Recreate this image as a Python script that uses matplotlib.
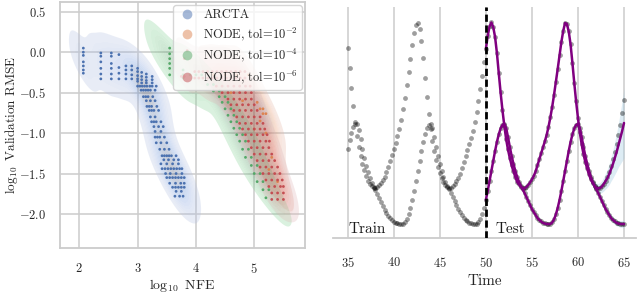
import numpy as np
import matplotlib
matplotlib.use("Agg")
import matplotlib.pyplot as plt
from matplotlib.lines import Line2D
import seaborn as sns

# ---------------- data: left panel ----------------
arcta_x = [2.07, 2.07, 2.07, 2.07, 2.07, 2.07, 2.07,
           2.37, 2.37, 2.37, 2.37, 2.37, 2.37,
           2.55, 2.55, 2.55, 2.55, 2.55, 2.55,
           2.68, 2.68, 2.68, 2.68,
           2.80, 2.80, 2.80, 2.80,
           2.90, 2.90, 2.90, 2.90,
           3.00, 3.00, 3.00, 3.00, 3.00,
           3.07, 3.07, 3.07, 3.07,
           3.15, 3.15, 3.15, 3.15,
           3.25, 3.25, 3.25,
           3.00, 3.04, 3.08, 3.12, 3.16, 3.21, 3.25, 3.32,
           3.06, 3.10, 3.14, 3.18, 3.22, 3.30,
           3.10, 3.14, 3.18, 3.26,
           3.15, 3.22, 3.30,
           3.16, 3.20, 3.24, 3.33,
           3.20, 3.24, 3.28, 3.36,
           3.22, 3.30,
           3.24, 3.28, 3.32, 3.40,
           3.28, 3.36, 3.44,
           3.30, 3.40,
           3.30, 3.34, 3.38, 3.46,
           3.32, 3.40, 3.50,
           3.38, 3.46, 3.54,
           3.42, 3.46, 3.50, 3.54, 3.58, 3.66,
           3.45, 3.53, 3.62, 3.70,
           3.40, 3.50, 3.60, 3.70,
           3.42, 3.47, 3.52, 3.57, 3.62, 3.67, 3.72, 3.76,
           3.48, 3.56, 3.66, 3.76,
           3.50, 3.55, 3.60, 3.65, 3.70, 3.75, 3.80,
           3.55, 3.65, 3.74, 3.80,
           3.60, 3.65, 3.70, 3.75, 3.80,
           3.66, 3.75,
           3.64, 3.72, 3.78]
arcta_y = [0.05, 0.00, -0.04, -0.12, -0.17, -0.22, -0.26,
           -0.01, -0.05, -0.12, -0.20, -0.27, -0.33,
           -0.01, -0.05, -0.14, -0.20, -0.27, -0.33,
           -0.03, -0.19, -0.26, -0.33,
           -0.17, -0.22, -0.27, -0.33,
           -0.17, -0.22, -0.28, -0.33,
           -0.20, -0.24, -0.29, -0.33, -0.36,
           -0.25, -0.30, -0.34, -0.38,
           -0.27, -0.31, -0.35, -0.38,
           -0.30, -0.34, -0.38,
           -0.42, -0.42, -0.42, -0.42, -0.42, -0.42, -0.42, -0.42,
           -0.47, -0.47, -0.47, -0.47, -0.47, -0.47,
           -0.55, -0.55, -0.55, -0.55,
           -0.60, -0.60, -0.60,
           -0.67, -0.67, -0.67, -0.67,
           -0.72, -0.72, -0.72, -0.72,
           -0.80, -0.80,
           -0.86, -0.86, -0.86, -0.86,
           -0.92, -0.92, -0.92,
           -0.98, -0.98,
           -1.05, -1.05, -1.05, -1.05,
           -1.12, -1.12, -1.12,
           -1.20, -1.20, -1.20,
           -1.28, -1.28, -1.28, -1.28, -1.28, -1.28,
           -1.33, -1.33, -1.33, -1.33,
           -1.38, -1.38, -1.38, -1.38,
           -1.44, -1.44, -1.44, -1.44, -1.44, -1.44, -1.44, -1.44,
           -1.50, -1.50, -1.50, -1.50,
           -1.55, -1.55, -1.55, -1.55, -1.55, -1.55, -1.55,
           -1.62, -1.62, -1.62, -1.62,
           -1.67, -1.67, -1.67, -1.67, -1.67,
           -1.72, -1.72,
           -1.78, -1.78, -1.78]

tol2_x = [4.30, 4.50, 4.70, 4.90, 5.05, 5.10, 5.15, 5.15, 5.20, 5.10, 5.20, 5.30, 5.40,
          4.60, 4.80, 5.00, 5.25]
tol2_y = [-0.28, -0.28, -0.28, -0.28, -0.62, -0.70, -0.70, -0.76, -0.76, -0.85, -1.00, -1.30, -1.60,
          -0.50, -0.60, -0.95, -1.45]

tol4_x = [3.55, 3.55, 3.55, 3.55, 3.55, 3.55,
          3.78, 3.78, 3.78, 3.90, 4.00, 4.10,
          4.20, 4.30, 4.30, 4.40, 4.40, 4.50, 4.45, 4.55, 4.50, 4.60,
          4.55, 4.65, 4.60, 4.70, 4.65, 4.75, 4.70, 4.80, 4.75, 4.85,
          4.80, 4.90, 4.85, 4.95, 4.95, 5.05, 5.00, 5.10, 5.05, 5.15,
          5.15, 5.25, 5.20]
tol4_y = [0.05, -0.02, -0.08, -0.14, -0.20, -0.28,
          -0.22, -0.28, -0.32, -0.28, -0.28, -0.28,
          -0.40, -0.40, -0.48, -0.48, -0.55, -0.55, -0.62, -0.62, -0.70, -0.70,
          -0.78, -0.78, -0.86, -0.86, -0.94, -0.94, -1.02, -1.02, -1.10, -1.10,
          -1.20, -1.20, -1.30, -1.30, -1.40, -1.40, -1.50, -1.50, -1.60, -1.60,
          -1.70, -1.70, -1.80]

tol6_x = [3.75, 3.80, 3.85, 3.80,
          3.98, 4.05, 4.12, 4.20, 4.28, 4.36, 4.44, 4.52, 4.60, 4.68, 4.76, 4.84,
          3.98, 4.05, 4.12, 4.20, 4.28, 4.36, 4.44, 4.52, 4.60, 4.68, 4.76, 4.84,
          4.35, 4.45, 4.55, 4.65, 4.75, 4.85, 4.93,
          4.45, 4.55, 4.65, 4.75, 4.85, 4.95,
          4.55, 4.65, 4.75, 4.85, 4.95,
          4.60, 4.70, 4.80, 4.90, 5.00,
          4.65, 4.75, 4.85, 4.95, 5.05,
          4.70, 4.80, 4.90, 5.00, 5.10,
          4.75, 4.85, 4.95, 5.05, 5.15,
          4.80, 4.90, 5.00, 5.10, 5.18,
          4.85, 4.95, 5.05, 5.15, 5.22,
          4.90, 5.00, 5.10, 5.20, 5.26,
          4.95, 5.05, 5.15, 5.25,
          5.00, 5.10, 5.20, 5.30,
          5.05, 5.15, 5.25, 5.35,
          5.10, 5.20, 5.30, 5.40,
          5.15, 5.25, 5.35, 5.44,
          5.20, 5.30, 5.40, 5.48,
          5.25, 5.35, 5.45, 5.50,
          5.30, 5.40, 5.50,
          5.30, 5.40, 5.50]
tol6_y = [-0.30, -0.30, 0.02, -0.08,
          -0.24, -0.24, -0.24, -0.24, -0.24, -0.24, -0.24, -0.24, -0.24, -0.24, -0.24, -0.24,
          -0.32, -0.32, -0.32, -0.32, -0.32, -0.32, -0.32, -0.32, -0.32, -0.32, -0.32, -0.32,
          -0.42, -0.42, -0.42, -0.42, -0.42, -0.42, -0.42,
          -0.50, -0.50, -0.50, -0.50, -0.50, -0.50,
          -0.58, -0.58, -0.58, -0.58, -0.58,
          -0.65, -0.65, -0.65, -0.65, -0.65,
          -0.72, -0.72, -0.72, -0.72, -0.72,
          -0.80, -0.80, -0.80, -0.80, -0.80,
          -0.88, -0.88, -0.88, -0.88, -0.88,
          -0.95, -0.95, -0.95, -0.95, -0.95,
          -1.02, -1.02, -1.02, -1.02, -1.02,
          -1.10, -1.10, -1.10, -1.10, -1.10,
          -1.18, -1.18, -1.18, -1.18,
          -1.26, -1.26, -1.26, -1.26,
          -1.34, -1.34, -1.34, -1.34,
          -1.42, -1.42, -1.42, -1.42,
          -1.50, -1.50, -1.50, -1.50,
          -1.58, -1.58, -1.58, -1.58,
          -1.66, -1.66, -1.66, -1.66,
          -1.74, -1.74, -1.74,
          -1.82, -1.82, -1.82]

series_labels = ["ARCTA", r"NODE, tol=$10^{-2}$", r"NODE, tol=$10^{-4}$", r"NODE, tol=$10^{-6}$"]
series_colors = ["#4C72B0", "#DD8452", "#55A868", "#C44E52"]
left_xticks = [2, 3, 4, 5]
left_yticks = [0.5, 0.0, -0.5, -1.0, -1.5, -2.0]

# ---------------- data: right panel ----------------
time = np.round(np.arange(35.0, 65.001, 0.2), 1)
obs_a = [19.0, 17.0, 15.0, 13.2, 11.6, 10.2, 9.1, 8.2, 7.4, 6.8, 6.2, 5.7, 5.4, 5.15, 5.0, 4.95,
         5.05, 5.25, 5.5, 5.75, 6.1, 6.55, 7.1, 7.7, 8.3, 8.9, 9.5, 10.15, 10.9, 11.8, 12.85, 14.0,
         15.25, 16.55, 17.9, 19.25, 20.45, 21.3,
         21.5, 20.9, 19.7, 18.0, 16.0, 14.1, 12.4, 10.9, 9.65, 8.65, 7.8, 7.1, 6.5, 5.95, 5.55, 5.25,
         5.07, 4.97,
         5.02, 5.2, 5.4, 5.65, 6.0, 6.4, 6.95, 7.55, 8.15, 8.75, 9.35, 9.95, 10.7, 11.55, 12.55, 13.7,
         14.9, 16.2, 17.55, 18.9, 20.2, 21.15,
         21.55, 21.1, 20.1, 18.5, 16.5, 14.55, 12.8, 11.25, 9.9, 8.85, 8.0, 7.25, 6.65, 6.1, 5.6, 5.35,
         5.1, 5.0, 4.95,
         5.1, 5.3, 5.55, 5.85, 6.2, 6.65, 7.25, 7.85, 8.45, 9.05, 9.65, 10.3, 11.1, 12.05, 13.1, 14.3,
         15.6, 16.9, 18.25, 19.6, 20.7, 21.5,
         21.4, 20.65, 19.35, 17.5, 15.5, 13.65, 12.0, 10.55, 9.4, 8.4, 7.6, 6.95, 6.35, 5.85, 5.5, 5.2,
         5.03, 4.96,
         5.0, 5.15, 5.4, 5.7, 6.1, 6.6, 7.2, 7.85, 8.6, 9.4, 10.3, 11.3, 12.5, 13.8]
obs_b = [8.9, 9.8, 10.5, 11.05, 11.35,
         11.35, 10.8, 9.85, 8.9, 8.0, 7.2, 6.55, 5.95, 5.5, 5.1, 4.75, 4.4, 4.0, 3.6, 3.2, 2.8, 2.5,
         2.2, 1.95, 1.75, 1.6, 1.5, 1.45, 1.4, 1.4,
         1.4, 1.55, 1.85, 2.35, 3.0, 3.8, 4.7, 5.7, 6.7, 7.7, 8.7, 9.6, 10.35, 10.95, 11.3, 11.4,
         11.0, 10.1, 9.1, 8.2, 7.4, 6.7, 6.1, 5.6, 5.2, 4.85, 4.5, 4.1, 3.7, 3.3, 2.9, 2.6, 2.3, 2.0,
         1.8, 1.65, 1.5, 1.45, 1.4, 1.4,
         1.4, 1.55, 1.85, 2.35, 3.0, 3.8, 4.7, 5.7, 6.7, 7.7, 8.7, 9.6, 10.35, 10.95, 11.3, 11.4,
         11.0, 10.1, 9.1, 8.2, 7.4, 6.7, 6.1, 5.6, 5.2, 4.85, 4.5, 4.1, 3.7, 3.3, 2.9, 2.6, 2.3, 2.0,
         1.8, 1.65, 1.5, 1.45, 1.4, 1.4,
         1.4, 1.55, 1.85, 2.35, 3.0, 3.8, 4.7, 5.7, 6.7, 7.7, 8.7, 9.6, 10.35, 10.95, 11.3, 11.4,
         11.0, 10.1, 9.1, 8.2, 7.4, 6.7, 6.1, 5.6, 5.2, 4.85, 4.5, 4.1, 3.7, 3.3, 2.9, 2.6, 2.3, 2.0,
         1.8, 1.65, 1.5, 1.45, 1.4, 1.4, 1.4]
pred_a_tail = [6.0, 6.4, 6.9, 7.4, 8.0, 8.6, 9.3, 10.0, 10.7, 11.5]   # t = 63.2 ... 65.0
band_a = [0.15, 0.15, 0.2, 0.2, 0.25, 0.25, 0.3, 0.3, 0.35, 0.4, 0.45, 0.5, 0.55, 0.6, 0.7, 0.8,
          0.9, 1.05, 1.2, 1.4, 1.65, 1.9, 2.2, 2.6, 3.0, 3.5]                 # t = 60.0 ... 65.0
band_b = [0.15, 0.2, 0.2, 0.25, 0.25, 0.3, 0.3, 0.3, 0.3, 0.3, 0.3, 0.3, 0.3, 0.3, 0.3, 0.3,
          0.3, 0.3, 0.3, 0.3, 0.3, 0.3, 0.3, 0.35, 0.35, 0.4]
split_time = 50
right_xticks = [35, 40, 45, 50, 55, 60, 65]

# ---------------- style ----------------
sns.set_theme(style="whitegrid")
plt.rcParams["font.family"] = ["cmr10", "DejaVu Serif"]
plt.rcParams["mathtext.fontset"] = "cm"
plt.rcParams["axes.formatter.use_mathtext"] = True
plt.rcParams["axes.unicode_minus"] = True

fig = plt.figure(figsize=(6.4, 2.94), dpi=100)

# ---------------- left panel ----------------
axL = fig.add_axes([0.09375, 0.1565, 0.3828, 0.8367])
groups = [(arcta_x, arcta_y), (tol2_x, tol2_y), (tol4_x, tol4_y), (tol6_x, tol6_y)]
for (gx, gy), c in zip(groups, series_colors):
    sns.kdeplot(x=gx, y=gy, ax=axL, fill=True, color=c, alpha=0.3, levels=16,
                thresh=0.04, bw_adjust=0.85, antialiased=True, linewidths=0)
for (gx, gy), c in zip(groups, series_colors):
    axL.scatter(gx, gy, s=4, color=c, edgecolor="none", linewidth=0, zorder=3)

axL.set_xlim(1.67, 5.87)
axL.set_ylim(-2.42, 0.62)
axL.set_xticks(left_xticks)
axL.set_xticklabels([f"${v}$" for v in left_xticks])
axL.set_yticks(left_yticks)
axL.set_yticklabels([f"${v:.1f}$" for v in left_yticks])
axL.tick_params(length=0, pad=10, labelsize=9, colors=".15")
axL.set_xlabel(r"$\log_{10}$ NFE", fontsize=10, color=".15", labelpad=1)
axL.set_ylabel(r"$\log_{10}$ Validation RMSE", fontsize=9.5, color=".15")
axL.yaxis.set_label_coords(-0.165, 0.5)
for sp in axL.spines.values():
    sp.set_color(".8")
    sp.set_linewidth(1.3)
axL.grid(True, color=".8", linewidth=1.1)

handles = [Line2D([], [], marker="o", ls="", markersize=7, color=c, alpha=0.5, markeredgewidth=0)
           for c in series_colors]
leg = axL.legend(handles, series_labels, loc="upper right", fontsize=9, frameon=True,
                 framealpha=0.8, borderaxespad=0.25, handletextpad=0.5, labelspacing=0.35,
                 borderpad=0.3, handlelength=1.6)
leg.get_frame().set_edgecolor(".8")

# ---------------- right panel ----------------
axR = fig.add_axes([0.5203, 0.1905, 0.4734, 0.7857])
t = np.asarray(time)
a = np.asarray(obs_a)
b = np.asarray(obs_b)
test = t >= split_time
pred_a = a[test].copy()
pred_a[-len(pred_a_tail):] = pred_a_tail
pred_b = b[test].copy()
tb = t[t >= 60]
pa_b = pred_a[-len(tb):]
pb_b = pred_b[-len(tb):]
axR.fill_between(tb, pa_b - np.asarray(band_a), pa_b + np.asarray(band_a),
                 color="#9ecae1", alpha=0.35, lw=0, zorder=1)
axR.fill_between(tb, pb_b - np.asarray(band_b), pb_b + np.asarray(band_b),
                 color="#9ecae1", alpha=0.35, lw=0, zorder=1)
axR.scatter(t, a, s=12, color="black", alpha=0.38, lw=0, zorder=2)
axR.scatter(t, b, s=12, color="black", alpha=0.38, lw=0, zorder=2)
axR.plot(t[test], pred_a, color="#800080", lw=1.8, zorder=3)
axR.plot(t[test], pred_b, color="#800080", lw=1.8, zorder=3)
axR.axvline(split_time, color="black", lw=2.0, ls=(0, (2.6, 1.3)), zorder=4)

axR.set_xlim(33.4, 66.3)
axR.set_ylim(0, 23.1)
axR.set_xticks(right_xticks)
axR.set_xticklabels([f"${v}$" for v in right_xticks])
axR.set_yticks([])
axR.tick_params(length=0, pad=13, labelsize=9, colors=".15")
axR.grid(False, axis="y")
axR.grid(True, axis="x", color=".8", linewidth=1.1)
for name, sp in axR.spines.items():
    sp.set_visible(name == "bottom")
axR.spines["bottom"].set_color(".8")
axR.spines["bottom"].set_linewidth(1.3)
axR.set_xlabel("Time", fontsize=11, color=".15", labelpad=3)
axR.text(35.05, 0.15, "Train", fontsize=11, color="0.1", ha="left", va="bottom")
axR.text(51.1, 0.15, "Test", fontsize=11, color="0.1", ha="left", va="bottom")

fig.savefig("out.png", dpi=100)
